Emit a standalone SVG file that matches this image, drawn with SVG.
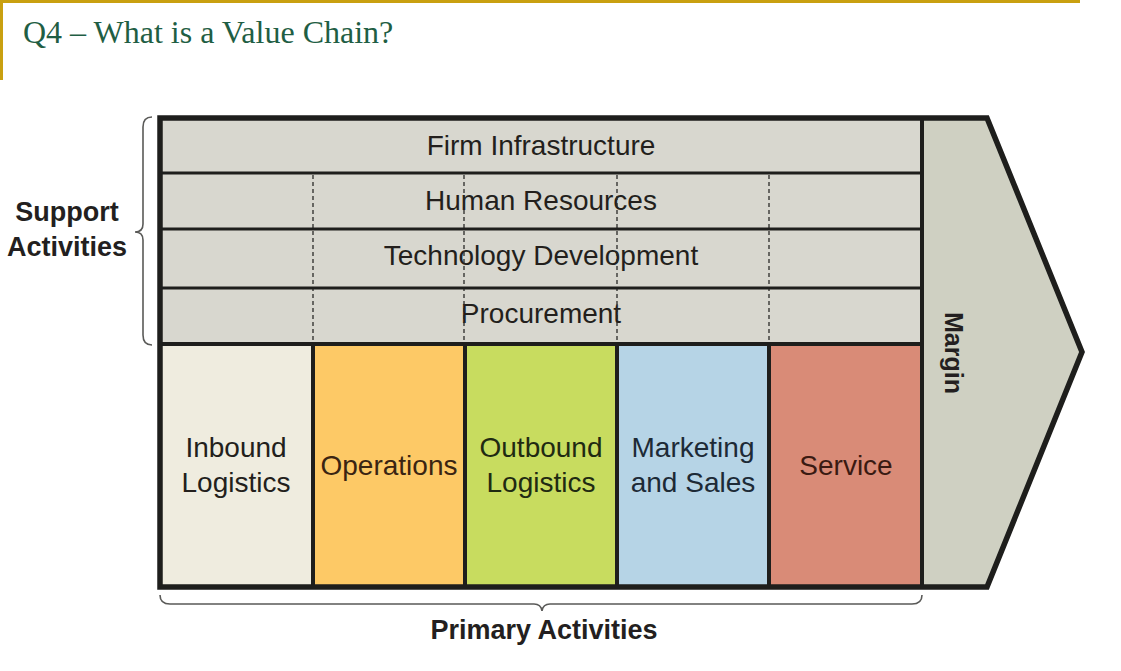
<svg xmlns="http://www.w3.org/2000/svg" width="1121" height="671" viewBox="0 0 1121 671">
<style>
.lbl{font-family:"Liberation Sans",Arial,sans-serif;font-size:28px;fill:#231f1c;text-anchor:middle}
.bold{font-family:"Liberation Sans",Arial,sans-serif;font-weight:bold;fill:#231f20;text-anchor:middle}
.frame{stroke:#1e1e1c;fill:none}
.dash{stroke:#2a2a28;stroke-width:1.3;stroke-dasharray:4 3;fill:none}
.brace{stroke:#5a5a58;stroke-width:1.6;fill:none}
</style>
<rect width="1121" height="671" fill="#ffffff"/>
<g id="title">
<rect x="0" y="0" width="1080" height="3" fill="#c9a010"/>
<rect x="0" y="0" width="3" height="80" fill="#c9a010"/>
<text x="23" y="43" font-family="'Liberation Serif','Times New Roman',serif" font-size="32" fill="#1f5e44">Q4 – What is a Value Chain?</text>
</g>
<g id="margin">
<polygon points="922,118 987,118 1082,352 987,587 922,587" fill="#cfd0c2"/>
<text transform="translate(945,353) rotate(90)" class="bold" font-size="25">Margin</text>
</g>
<g id="firm-infrastructure">
<rect x="160" y="118" width="762" height="55" fill="#d8d7cf"/>
<text x="541" y="155" class="lbl">Firm Infrastructure</text>
</g>
<g id="human-resources">
<rect x="160" y="173" width="762" height="56" fill="#d8d7cf"/>
<text x="541" y="210" class="lbl">Human Resources</text>
</g>
<g id="technology-development">
<rect x="160" y="229" width="762" height="59" fill="#d8d7cf"/>
<text x="541" y="265" class="lbl">Technology Development</text>
</g>
<g id="procurement">
<rect x="160" y="288" width="762" height="56" fill="#d8d7cf"/>
<text x="541" y="323" class="lbl">Procurement</text>
</g>
<g id="inbound-logistics">
<rect x="160" y="344" width="153" height="243" fill="#efecdf"/>
<text x="236" y="457" class="lbl">Inbound</text>
<text x="236" y="492" class="lbl">Logistics</text>
</g>
<g id="operations">
<rect x="313" y="344" width="152" height="243" fill="#fdc966"/>
<text x="389" y="475" class="lbl" style="fill:#3a2412">Operations</text>
</g>
<g id="outbound-logistics">
<rect x="465" y="344" width="152" height="243" fill="#c8dc5f"/>
<text x="541" y="457" class="lbl" style="fill:#1f2a12">Outbound</text>
<text x="541" y="492" class="lbl" style="fill:#1f2a12">Logistics</text>
</g>
<g id="marketing-and-sales">
<rect x="617" y="344" width="152" height="243" fill="#b6d4e6"/>
<text x="693" y="457" class="lbl" style="fill:#1d2a36">Marketing</text>
<text x="693" y="492" class="lbl" style="fill:#1d2a36">and Sales</text>
</g>
<g id="service">
<rect x="769" y="344" width="153" height="243" fill="#d98b77"/>
<text x="846" y="475" class="lbl" style="fill:#3a1a12">Service</text>
</g>
<g id="support-activities">
<path class="brace" d="M152,117 Q143,117 143,127 L143,224 Q143,232 135,232 Q143,232 143,240 L143,335 Q143,345 152,345"/>
<text x="67" y="221" class="bold" font-size="27">Support</text>
<text x="67" y="256" class="bold" font-size="27">Activities</text>
</g>
<g id="primary-activities">
<path class="brace" d="M160,595 Q160,604 170,604 L534,604 Q541,604 542,611 Q543,604 550,604 L912,604 Q922,604 922,595"/>
<text x="544" y="639" class="bold" font-size="27">Primary Activities</text>
</g>
<g id="connectors">
<line class="dash" x1="313" y1="175" x2="313" y2="343"/>
<line class="dash" x1="464" y1="175" x2="464" y2="343"/>
<line class="dash" x1="617" y1="175" x2="617" y2="343"/>
<line class="dash" x1="769" y1="175" x2="769" y2="343"/>
<line class="frame" stroke-width="3" x1="160" y1="173" x2="922" y2="173"/>
<line class="frame" stroke-width="3" x1="160" y1="229" x2="922" y2="229"/>
<line class="frame" stroke-width="3" x1="160" y1="288" x2="922" y2="288"/>
<line class="frame" stroke-width="4" x1="160" y1="344" x2="922" y2="344"/>
<line class="frame" stroke-width="4" x1="313" y1="344" x2="313" y2="587"/>
<line class="frame" stroke-width="4" x1="465" y1="344" x2="465" y2="587"/>
<line class="frame" stroke-width="4" x1="617" y1="344" x2="617" y2="587"/>
<line class="frame" stroke-width="4" x1="769" y1="344" x2="769" y2="587"/>
<line class="frame" stroke-width="4" x1="922" y1="118" x2="922" y2="587"/>
<polygon class="frame" stroke-width="5.5" stroke-linejoin="miter" points="160,118 987,118 1082,352 987,587 160,587"/>
</g>
</svg>
